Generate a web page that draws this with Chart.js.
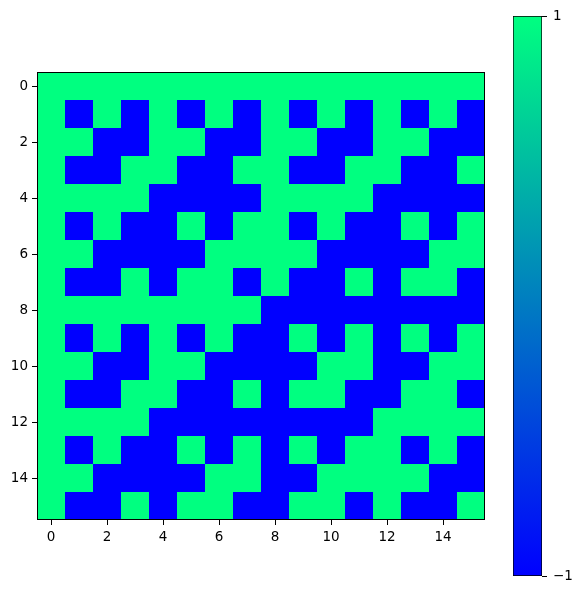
<!DOCTYPE html>
<html>
<head>
<meta charset="utf-8">
<script src="https://cdn.jsdelivr.net/npm/chart.js@4"></script>
<style>
  html, body { margin: 0; padding: 0; background: #fff; }
  #wrap { position: relative; width: 581px; height: 594px; }
  #wrap canvas { position: absolute; left: 0; top: 0; }
</style>
</head>
<body>
<div id="wrap">
  <canvas id="heat" width="581" height="594"></canvas>
  <canvas id="cbar" width="581" height="594"></canvas>
</div>
<script>
// 16x16 matrix, row by row (1 = green, -1 = blue)
const cells = [
  [ 1, 1, 1, 1, 1, 1, 1, 1, 1, 1, 1, 1, 1, 1, 1, 1],
  [ 1,-1, 1,-1, 1,-1, 1,-1, 1,-1, 1,-1, 1,-1, 1,-1],
  [ 1, 1,-1,-1, 1, 1,-1,-1, 1, 1,-1,-1, 1, 1,-1,-1],
  [ 1,-1,-1, 1, 1,-1,-1, 1, 1,-1,-1, 1, 1,-1,-1, 1],
  [ 1, 1, 1, 1,-1,-1,-1,-1, 1, 1, 1, 1,-1,-1,-1,-1],
  [ 1,-1, 1,-1,-1, 1,-1, 1, 1,-1, 1,-1,-1, 1,-1, 1],
  [ 1, 1,-1,-1,-1,-1, 1, 1, 1, 1,-1,-1,-1,-1, 1, 1],
  [ 1,-1,-1, 1,-1, 1, 1,-1, 1,-1,-1, 1,-1, 1, 1,-1],
  [ 1, 1, 1, 1, 1, 1, 1, 1,-1,-1,-1,-1,-1,-1,-1,-1],
  [ 1,-1, 1,-1, 1,-1, 1,-1,-1, 1,-1, 1,-1, 1,-1, 1],
  [ 1, 1,-1,-1, 1, 1,-1,-1,-1,-1, 1, 1,-1,-1, 1, 1],
  [ 1,-1,-1, 1, 1,-1,-1, 1,-1, 1, 1,-1,-1, 1, 1,-1],
  [ 1, 1, 1, 1,-1,-1,-1,-1,-1,-1,-1,-1, 1, 1, 1, 1],
  [ 1,-1, 1,-1,-1, 1,-1, 1,-1, 1,-1, 1, 1,-1, 1,-1],
  [ 1, 1,-1,-1,-1,-1, 1, 1,-1,-1, 1, 1, 1, 1,-1,-1],
  [ 1,-1,-1, 1,-1, 1, 1,-1,-1, 1, 1,-1, 1,-1,-1, 1]
];
const xTicks = [0, 2, 4, 6, 8, 10, 12, 14];
const yTicks = [0, 2, 4, 6, 8, 10, 12, 14];
const cbarRange = [-1, 1];
const cbarTicks = [-1, 1];

const lowColor = '#0000ff';   // winter at -1
const highColor = '#00ff80';  // winter at 1
const font = { family: 'DejaVu Sans', size: 13.5 };

const cellPlugin = {
    id: 'cells',
    beforeDatasetsDraw(chart) {
        const { ctx, scales: { x, y } } = chart;
        ctx.save();
        cells.forEach((row, i) => {
            row.forEach((v, j) => {
                const x0 = Math.round(x.getPixelForValue(j - 0.5));
                const x1 = Math.round(x.getPixelForValue(j + 0.5));
                const y0 = Math.round(y.getPixelForValue(i - 0.5));
                const y1 = Math.round(y.getPixelForValue(i + 0.5));
                ctx.fillStyle = v > 0 ? highColor : lowColor;
                ctx.fillRect(x0, y0, x1 - x0, y1 - y0);
            });
        });
        const a = chart.chartArea;
        ctx.strokeStyle = '#000';
        ctx.lineWidth = 1;
        ctx.strokeRect(a.left + 0.5, a.top + 0.5, a.right - a.left - 1, a.bottom - a.top - 1);
        ctx.restore();
    }
};

function axisOpts(ticks, reverse, fit) {
    return {
        type: 'linear',
        min: -0.5,
        max: 15.5,
        reverse: reverse,
        afterBuildTicks: s => { s.ticks = ticks.map(v => ({ value: v })); },
        afterFit: fit,
        grid: { drawOnChartArea: false, drawTicks: true, tickLength: 5, tickColor: '#000', tickWidth: 1 },
        border: { display: false },
        ticks: { color: '#000', font: font, padding: 4, maxRotation: 0, autoSkip: false, callback: v => String(v) }
    };
}

new Chart(document.getElementById('heat').getContext('2d'), {
    type: 'scatter',
    data: { datasets: [{ data: [], pointRadius: 0 }] },
    options: {
        responsive: false,
        animation: false,
        layout: { padding: { top: 72, right: 96, left: 0, bottom: 0 } },
        plugins: { legend: { display: false }, tooltip: { enabled: false } },
        scales: {
            x: axisOpts(xTicks, false, s => { s.height = 74; }),
            y: axisOpts(yTicks, true, s => { s.width = 37; })
        }
    },
    plugins: [cellPlugin]
});

new Chart(document.getElementById('cbar').getContext('2d'), {
    type: 'bar',
    data: {
        labels: [''],
        datasets: [{
            data: [cbarRange],
            barPercentage: 1,
            categoryPercentage: 1,
            borderColor: '#000',
            borderWidth: 1,
            borderSkipped: false,
            backgroundColor: ctx => {
                const area = ctx.chart.chartArea;
                if (!area) return lowColor;
                const g = ctx.chart.ctx.createLinearGradient(0, area.bottom, 0, area.top);
                g.addColorStop(0, lowColor);
                g.addColorStop(1, highColor);
                return g;
            }
        }]
    },
    options: {
        responsive: false,
        animation: false,
        layout: { padding: { top: 16, bottom: 18, left: 513, right: 0 } },
        plugins: { legend: { display: false }, tooltip: { enabled: false } },
        scales: {
            x: { display: false },
            y: {
                position: 'right',
                min: -1,
                max: 1,
                afterBuildTicks: s => { s.ticks = cbarTicks.map(v => ({ value: v })); },
                afterFit: s => { s.width = 39; },
                grid: { drawOnChartArea: false, drawTicks: true, tickLength: 5, tickColor: '#000' },
                border: { display: false },
                ticks: { color: '#000', font: font, padding: 6, callback: v => (v < 0 ? '\u2212' + Math.abs(v) : String(v)) }
            }
        }
    }
});
</script>
</body>
</html>
